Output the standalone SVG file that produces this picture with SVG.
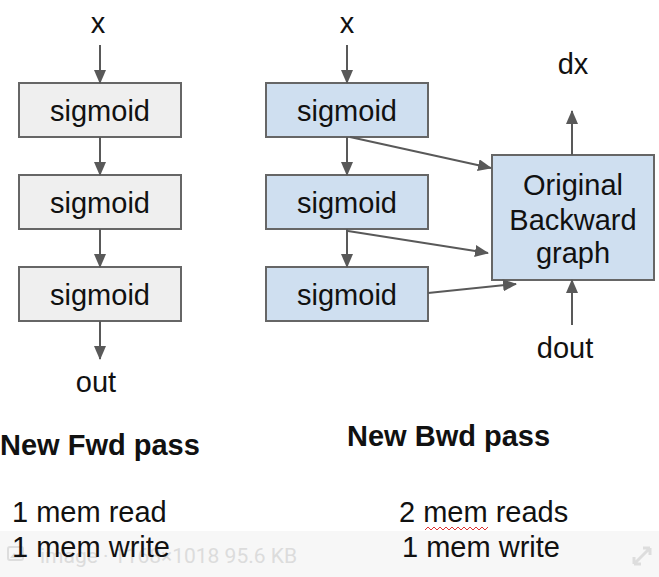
<svg xmlns="http://www.w3.org/2000/svg" width="659" height="577" viewBox="0 0 659 577">
<style>
text{font-family:"Liberation Sans",Arial,sans-serif;fill:#111;}
.t{font-size:29px;text-anchor:middle;}
.b{font-size:29px;font-weight:bold;}
.m{font-size:29px;}
.gray rect{fill:#efefef;stroke:#666;stroke-width:2;}
.blue rect{fill:#cfdff0;stroke:#666;stroke-width:2;}
.c line{stroke:#595959;stroke-width:2;marker-end:url(#ah);}
</style>
<defs>
<marker id="ah" markerUnits="userSpaceOnUse" markerWidth="14" markerHeight="12" refX="13" refY="6" orient="auto">
<path d="M0,0 L14,6 L0,12 Z" fill="#595959"/>
</marker>
</defs>
<rect width="659" height="577" fill="#fff"/>
<g id="labels">
<text class="t" x="98" y="33">x</text>
<text class="t" x="347" y="33">x</text>
<text class="t" x="573" y="74">dx</text>
<text class="t" x="96" y="392">out</text>
<text class="t" x="565" y="358">dout</text>
</g>
<g id="fwd1" class="gray"><rect x="19" y="83" width="162" height="54"/><text class="t" x="100" y="121">sigmoid</text></g>
<g id="fwd2" class="gray"><rect x="19" y="175" width="162" height="54"/><text class="t" x="100" y="213">sigmoid</text></g>
<g id="fwd3" class="gray"><rect x="19" y="267" width="162" height="54"/><text class="t" x="100" y="305">sigmoid</text></g>
<g id="bwd1" class="blue"><rect x="266" y="83" width="162" height="54"/><text class="t" x="347" y="121">sigmoid</text></g>
<g id="bwd2" class="blue"><rect x="266" y="175" width="162" height="54"/><text class="t" x="347" y="213">sigmoid</text></g>
<g id="bwd3" class="blue"><rect x="266" y="267" width="162" height="54"/><text class="t" x="347" y="305">sigmoid</text></g>
<g id="orig" class="blue"><rect x="492" y="155" width="162" height="125"/>
<text class="t" x="573" y="195">Original</text>
<text class="t" x="573" y="230">Backward</text>
<text class="t" x="573" y="263">graph</text></g>
<g id="connectors" class="c">
<line x1="100" y1="45" x2="100" y2="83"/>
<line x1="100" y1="137" x2="100" y2="175"/>
<line x1="100" y1="229" x2="100" y2="267"/>
<line x1="100" y1="321" x2="100" y2="359"/>
<line x1="347" y1="45" x2="347" y2="83"/>
<line x1="347" y1="137" x2="347" y2="175"/>
<line x1="347" y1="229" x2="347" y2="267"/>
<line x1="350" y1="137" x2="491" y2="168"/>
<line x1="348" y1="231" x2="488" y2="253"/>
<line x1="428" y1="293" x2="516" y2="284"/>
<line x1="572" y1="155" x2="572" y2="111"/>
<line x1="572" y1="325" x2="572" y2="280"/>
</g>
<g id="text">
<text class="b" x="0" y="455">New Fwd pass</text>
<text class="b" x="347" y="446">New Bwd pass</text>
<text class="m" x="12" y="522">1 mem read</text>
<text class="m" x="399" y="522">2 mem reads</text>
<polyline points="425,530 428,527 431,530 434,527 437,530 440,527 443,530 446,527 449,530 452,527 455,530 458,527 461,530 464,527 467,530 470,527 473,530 476,527 479,530 482,527 485,530 488,527" fill="none" stroke="#d33" stroke-width="1"/>
</g>
<g id="overlay">
<rect x="0" y="531" width="659" height="46" fill="#f6f6f6" opacity="0.9"/>
<rect x="8" y="547" width="15" height="13" rx="2" fill="none" stroke="#ddd" stroke-width="2"/>
<path d="M10,558 L14,553 L17,556 L19,554 L22,558 Z" fill="#ddd"/>
<text x="40" y="563" style="font-size:21px;fill:#dcdcdc;font-family:Roboto,'Liberation Sans',sans-serif">image · 1168×1018 95.6 KB</text>
<path d="M634,564 L650,548 M634,564 L634,557 M634,564 L641,564 M650,548 L650,555 M650,548 L643,548" stroke="#ddd" stroke-width="3" fill="none"/>
</g>
<text class="m" x="12" y="557">1 mem write</text>
<text class="m" x="402" y="557">1 mem write</text>
</svg>
